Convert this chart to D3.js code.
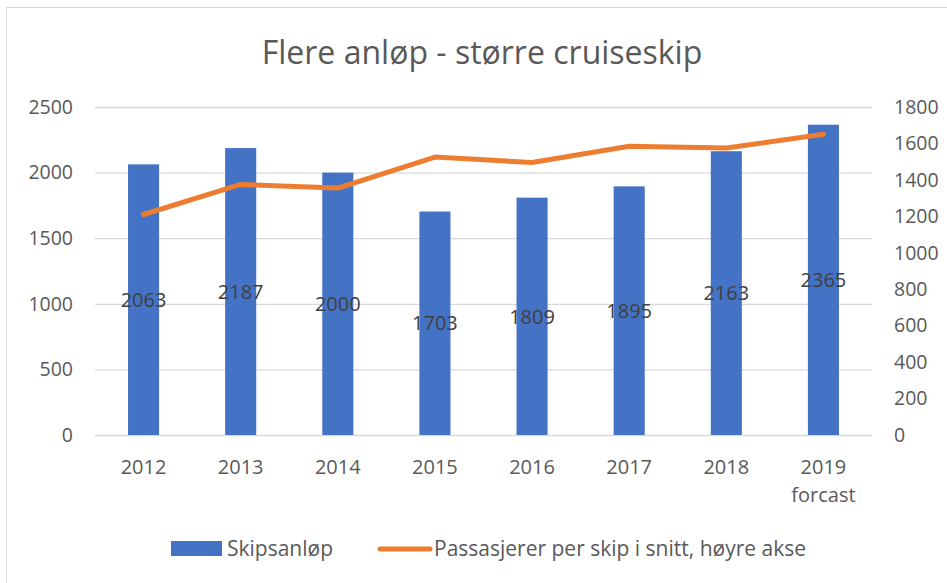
<!DOCTYPE html>
<html>
<head>
<meta charset="utf-8">
<script src="https://cdn.jsdelivr.net/npm/d3@7"></script>
<style>
  body { margin: 0; background: #fff; }
  text { font-family: "Open Sans", Lato, sans-serif; }
</style>
</head>
<body>
<script>
var years = ["2012", "2013", "2014", "2015", "2016", "2017", "2018", "2019"];
var yearNotes = ["", "", "", "", "", "", "", "forcast"];
var shipCalls = [2063, 2187, 2000, 1703, 1809, 1895, 2163, 2365];
var paxPerShip = [1210, 1375, 1355, 1525, 1495, 1585, 1575, 1650];
var leftTicks = [0, 500, 1000, 1500, 2000, 2500];
var rightTicks = [0, 200, 400, 600, 800, 1000, 1200, 1400, 1600, 1800];

var width = 947, height = 583;
var margin = {top: 107, right: 75, bottom: 148, left: 95};
var font = "'Open Sans', Lato, sans-serif";

var svg = d3.select("body").append("svg")
    .attr("width", width)
    .attr("height", height);

// chart frame (only top/left visible in the crop)
svg.append("rect")
    .attr("x", 6.5).attr("y", 7.5)
    .attr("width", 1000).attr("height", 1000)
    .attr("fill", "none")
    .attr("stroke", "#d9d9d9");

svg.append("text")
    .attr("x", 482).attr("y", 64)
    .attr("text-anchor", "middle")
    .attr("font-size", 32)
    .attr("fill", "#595959")
    .text("Flere anløp - større cruiseskip");

var x = d3.scaleBand()
    .domain(years)
    .range([margin.left, width - margin.right])
    .paddingInner(0.68)
    .paddingOuter(0.34);

var yLeft = d3.scaleLinear()
    .domain([0, 2500])
    .range([height - margin.bottom, margin.top]);

var yRight = d3.scaleLinear()
    .domain([0, 1800])
    .range([height - margin.bottom, margin.top]);

// gridlines
svg.append("g").selectAll("line")
    .data(leftTicks)
  .enter().append("line")
    .attr("x1", margin.left).attr("x2", width - margin.right)
    .attr("y1", function(d) { return yLeft(d) + 0.5; })
    .attr("y2", function(d) { return yLeft(d) + 0.5; })
    .attr("stroke", "#d9d9d9")
    .attr("stroke-width", 1.3);

var leftAxis = svg.append("g")
    .attr("transform", "translate(" + (margin.left - 22) + ",0)")
    .call(d3.axisLeft(yLeft).tickValues(leftTicks).tickFormat(d3.format("d"))
      .tickSize(0).tickPadding(0));

var rightAxis = svg.append("g")
    .attr("transform", "translate(" + (width - margin.right + 22) + ",0)")
    .call(d3.axisRight(yRight).tickValues(rightTicks).tickFormat(d3.format("d"))
      .tickSize(0).tickPadding(0));

[leftAxis, rightAxis].forEach(function(a) {
  a.select(".domain").remove();
  a.selectAll("text")
      .attr("font-family", font)
      .attr("font-size", 19.5)
      .attr("fill", "#595959");
});

// bars
svg.append("g").selectAll("rect")
    .data(shipCalls)
  .enter().append("rect")
    .attr("x", function(d, i) { return x(years[i]); })
    .attr("y", function(d) { return yLeft(d); })
    .attr("width", x.bandwidth())
    .attr("height", function(d) { return yLeft(0) - yLeft(d); })
    .attr("fill", "#4472c4");

// line
var line = d3.line()
    .x(function(d, i) { return x(years[i]) + x.bandwidth() / 2; })
    .y(function(d) { return yRight(d); });

svg.append("path")
    .datum(paxPerShip)
    .attr("d", line)
    .attr("fill", "none")
    .attr("stroke", "#ed7d31")
    .attr("stroke-width", 5)
    .attr("stroke-linecap", "round")
    .attr("stroke-linejoin", "round");

// bar value labels at bar middle
svg.append("g").selectAll("text")
    .data(shipCalls)
  .enter().append("text")
    .attr("x", function(d, i) { return x(years[i]) + x.bandwidth() / 2; })
    .attr("y", function(d) { return (yLeft(d) + yLeft(0)) / 2; })
    .attr("dy", "0.36em")
    .attr("text-anchor", "middle")
    .attr("font-size", 20)
    .attr("fill", "#404040")
    .text(function(d) { return d; });

// category labels
var xl = svg.append("g").selectAll("text")
    .data(years)
  .enter().append("text")
    .attr("x", function(d) { return x(d) + x.bandwidth() / 2; })
    .attr("y", 474)
    .attr("text-anchor", "middle")
    .attr("font-size", 20)
    .attr("fill", "#595959");

xl.append("tspan").text(function(d) { return d; });
xl.append("tspan")
    .attr("x", function(d) { return x(d) + x.bandwidth() / 2; })
    .attr("dy", 28)
    .text(function(d, i) { return yearNotes[i]; });

// legend
var legend = svg.append("g");
legend.append("rect")
    .attr("x", 171).attr("y", 541)
    .attr("width", 51).attr("height", 15)
    .attr("fill", "#4472c4");
legend.append("text")
    .attr("x", 227).attr("y", 556)
    .attr("font-size", 21)
    .attr("fill", "#595959")
    .text("Skipsanløp");
legend.append("line")
    .attr("x1", 380).attr("x2", 430)
    .attr("y1", 549).attr("y2", 549)
    .attr("stroke", "#ed7d31")
    .attr("stroke-width", 5)
    .attr("stroke-linecap", "round");
legend.append("text")
    .attr("x", 434).attr("y", 556)
    .attr("font-size", 21)
    .attr("fill", "#595959")
    .text("Passasjerer per skip i snitt, høyre akse");
</script>
</body>
</html>
